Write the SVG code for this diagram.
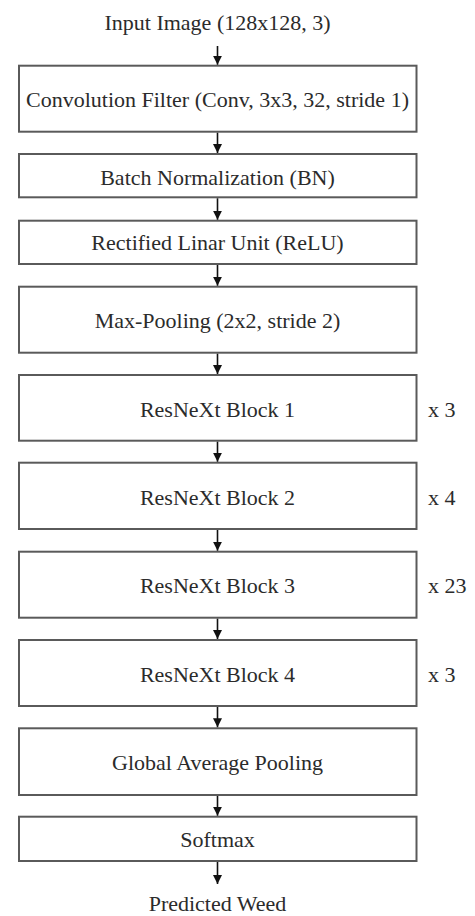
<svg xmlns="http://www.w3.org/2000/svg" width="475" height="916" viewBox="0 0 475 916">
<style>
.box{fill:#fff;stroke:#5a5a5a;stroke-width:2}
.t{font-family:'Liberation Serif','Times New Roman','DejaVu Serif',serif;font-size:22px;fill:#2b2b2b;text-anchor:middle}
.r{font-family:'Liberation Serif','Times New Roman','DejaVu Serif',serif;font-size:22px;fill:#2b2b2b}
.c{stroke:#111;stroke-width:1.6;fill:none;marker-end:url(#ah)}
</style>
<defs>
<marker id="ah" markerWidth="9" markerHeight="10" refX="9" refY="4.5" orient="auto" markerUnits="userSpaceOnUse">
<path d="M0,0 L9,4.5 L0,9 Z" fill="#111"/>
</marker>
</defs>
<rect width="475" height="916" fill="#fff"/>
<g id="input"><text class="t" x="217.5" y="30">Input Image (128x128, 3)</text></g>
<g id="conv"><rect class="box" x="19" y="65.7" width="397.5" height="66"/><text class="t" x="217.5" y="107">Convolution Filter (Conv, 3x3, 32, stride 1)</text></g>
<g id="bn"><rect class="box" x="19" y="154" width="397.5" height="43.3"/><text class="t" x="217.5" y="185">Batch Normalization (BN)</text></g>
<g id="relu"><rect class="box" x="19" y="220.7" width="397.5" height="43.3"/><text class="t" x="217.5" y="250">Rectified Linar Unit (ReLU)</text></g>
<g id="maxpool"><rect class="box" x="19" y="286.7" width="397.5" height="66"/><text class="t" x="217.5" y="328.3">Max-Pooling (2x2, stride 2)</text></g>
<g id="rb1"><rect class="box" x="19" y="375" width="397.5" height="65.7"/><text class="t" x="217.5" y="416.7">ResNeXt Block 1</text><text class="r" x="428" y="416.7">x 3</text></g>
<g id="rb2"><rect class="box" x="19" y="462.7" width="397.5" height="66.3"/><text class="t" x="217.5" y="505">ResNeXt Block 2</text><text class="r" x="428" y="505">x 4</text></g>
<g id="rb3"><rect class="box" x="19" y="551.7" width="397.5" height="66"/><text class="t" x="217.5" y="593.3">ResNeXt Block 3</text><text class="r" x="428" y="593.3">x 23</text></g>
<g id="rb4"><rect class="box" x="19" y="640" width="397.5" height="66"/><text class="t" x="217.5" y="681.7">ResNeXt Block 4</text><text class="r" x="428" y="681.7">x 3</text></g>
<g id="gap"><rect class="box" x="19" y="728.3" width="397.5" height="66.7"/><text class="t" x="217.5" y="770">Global Average Pooling</text></g>
<g id="softmax"><rect class="box" x="19" y="816.7" width="397.5" height="44.3"/><text class="t" x="217.5" y="846.7">Softmax</text></g>
<g id="output"><text class="t" x="217.5" y="911">Predicted Weed</text></g>
<g id="connectors">
<line class="c" x1="217.5" y1="46" x2="217.5" y2="64.7"/>
<line class="c" x1="217.5" y1="132.7" x2="217.5" y2="153"/>
<line class="c" x1="217.5" y1="198.3" x2="217.5" y2="219.7"/>
<line class="c" x1="217.5" y1="265" x2="217.5" y2="285.7"/>
<line class="c" x1="217.5" y1="353.7" x2="217.5" y2="374"/>
<line class="c" x1="217.5" y1="441.7" x2="217.5" y2="461.7"/>
<line class="c" x1="217.5" y1="530" x2="217.5" y2="550.7"/>
<line class="c" x1="217.5" y1="618.7" x2="217.5" y2="639"/>
<line class="c" x1="217.5" y1="707" x2="217.5" y2="727.3"/>
<line class="c" x1="217.5" y1="796" x2="217.5" y2="815.7"/>
<line class="c" x1="217.5" y1="862" x2="217.5" y2="884"/>
</g>
</svg>
